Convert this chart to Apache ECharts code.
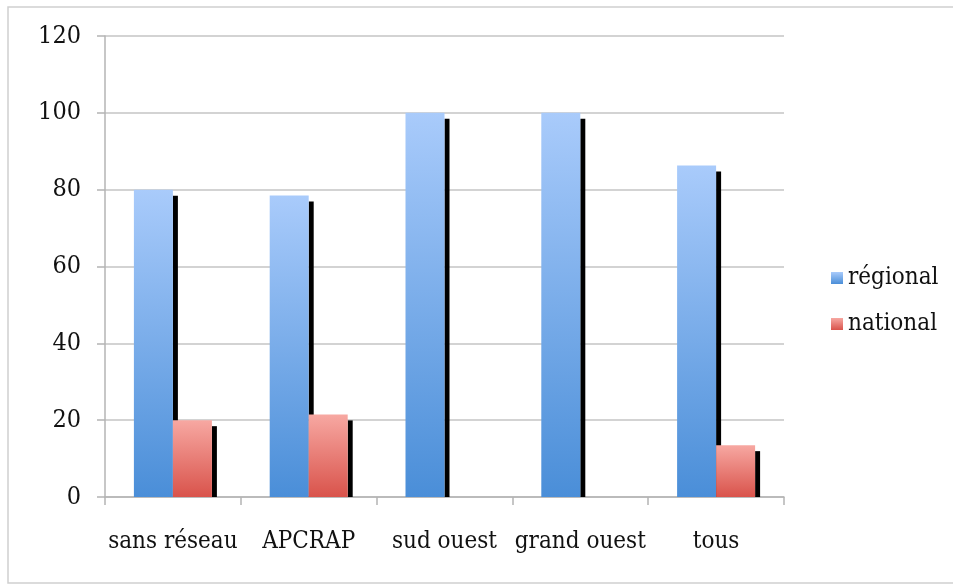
<!DOCTYPE html>
<html>
<head>
<meta charset="utf-8">
<script src="https://cdn.jsdelivr.net/npm/echarts@6/dist/echarts.min.js"></script>
<style>html,body{margin:0;padding:0;background:#fff;}#c{width:953px;height:586px;}</style>
</head>
<body>
<div id="c"></div>
<script>
var categories = ['sans réseau', 'APCRAP', 'sud ouest', 'grand ouest', 'tous'];
var regional = [80, 78.5, 100, 100, 86.3];
var national = [20, 21.5, 0, 0, 13.5];
var yTicks = { min: 0, max: 120, interval: 20 };

var FONT = 'DejaVu Serif Condensed';
var chart = echarts.init(document.getElementById('c'));

function grad(top, bottom) {
  return new echarts.graphic.LinearGradient(0, 0, 0, 1, [
    { offset: 0, color: top }, { offset: 1, color: bottom }
  ]);
}
var BAR_W = 39, SH_W = 5, SH_DY = 6;

function makeRender(seriesIndex, top, bottom) {
  return function (params, api) {
    var idx = api.value(0), val = api.value(1);
    if (!val) return null;
    var p = api.coord([idx, val]);
    var z = api.coord([idx, 0]);
    var x = seriesIndex === 0 ? p[0] - BAR_W : p[0];
    var h = z[1] - p[1];
    return {
      type: 'group',
      children: [{
        type: 'rect',
        shape: { x: x + BAR_W, y: p[1] + SH_DY, width: SH_W, height: h - SH_DY },
        style: { fill: '#000' }
      }, {
        type: 'rect',
        shape: { x: x, y: p[1], width: BAR_W, height: h },
        style: { fill: grad(top, bottom) }
      }]
    };
  };
}

function toData(arr) { return arr.map(function (v, i) { return [i, v]; }); }

chart.setOption({
  animation: false,
  backgroundColor: '#fff',
  graphic: [{
    type: 'rect', shape: { x: 8, y: 7, width: 960, height: 576 },
    style: { fill: 'none', stroke: '#d0d0d0', lineWidth: 1.5 }, z: -1
  }],
  grid: { left: 105, right: 169, top: 36, bottom: 89 },
  legend: {
    orient: 'vertical', left: 826, top: 261,
    icon: 'rect', itemWidth: 12, itemHeight: 12, itemGap: 22,
    textStyle: { fontFamily: FONT, fontSize: 24, color: '#111' },
    data: ['régional', 'national']
  },
  xAxis: {
    type: 'category', data: categories,
    axisLine: { lineStyle: { color: '#b4b4b4', width: 1.5 } },
    axisTick: { show: true, length: 8, lineStyle: { color: '#b4b4b4', width: 1.5 } },
    axisLabel: { fontFamily: FONT, fontSize: 24, color: '#111', margin: 33, interval: 0 }
  },
  yAxis: {
    type: 'value', min: yTicks.min, max: yTicks.max, interval: yTicks.interval,
    axisLine: { show: true, lineStyle: { color: '#b4b4b4', width: 1.5 } },
    axisTick: { show: true, length: 8, lineStyle: { color: '#b4b4b4', width: 1.5 } },
    splitLine: { lineStyle: { color: '#c4c4c4', width: 1.5 } },
    axisLabel: { fontFamily: FONT, fontSize: 25, color: '#111', margin: 24, padding: [6, 0, 0, 0] }
  },
  series: [{
    name: 'régional', type: 'custom', data: toData(regional),
    encode: { x: 0, y: 1 },
    itemStyle: { color: grad('#a9cbfb', '#4a8ed8') },
    renderItem: makeRender(0, '#a9cbfb', '#4a8ed8')
  }, {
    name: 'national', type: 'custom', data: toData(national),
    encode: { x: 0, y: 1 },
    itemStyle: { color: grad('#f7a8a2', '#d9534b') },
    renderItem: makeRender(1, '#f7a8a2', '#d9534b')
  }]
});
</script>
</body>
</html>
